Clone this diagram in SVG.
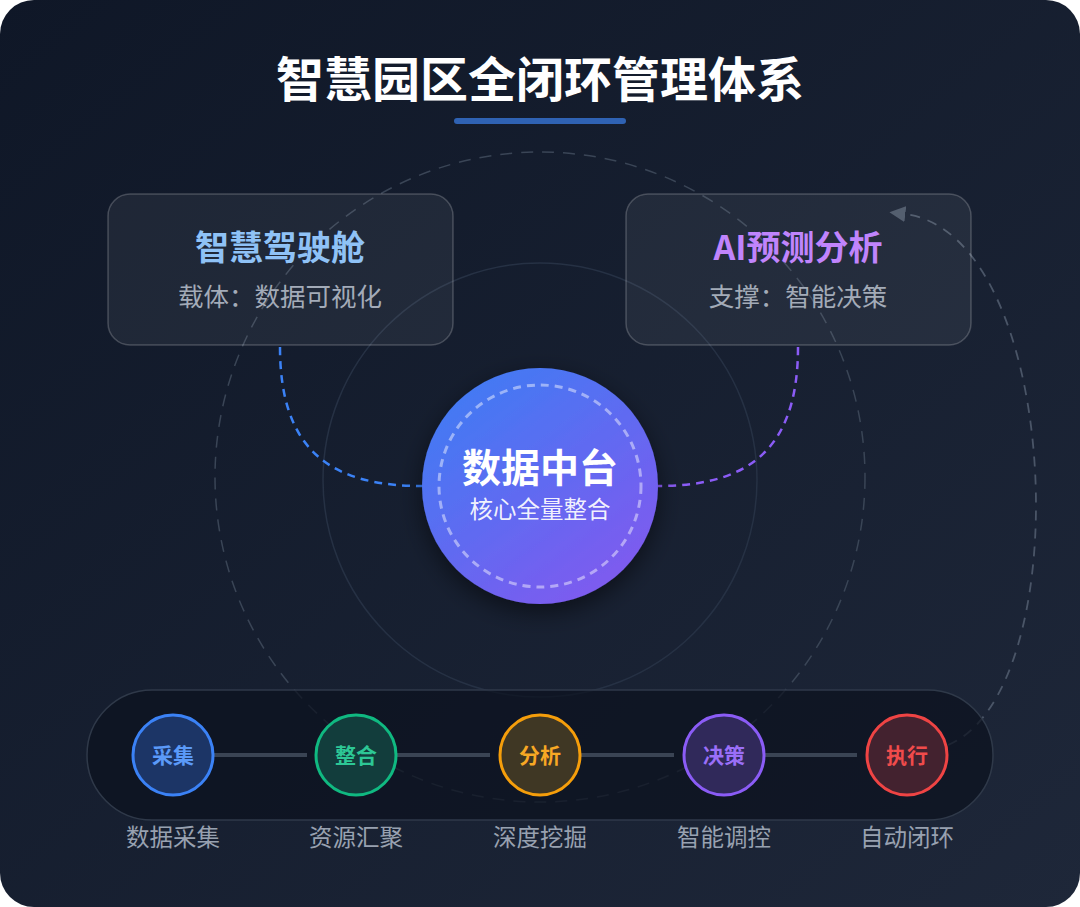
<svg xmlns="http://www.w3.org/2000/svg" width="1080" height="907" viewBox="0 0 1080 907">
  <defs>
    <linearGradient id="bg" x1="0" y1="0" x2="1" y2="1">
      <stop offset="0" stop-color="#0f1727"/>
      <stop offset="1" stop-color="#1e2739"/>
    </linearGradient>
    <linearGradient id="core" x1="0.2" y1="0.1" x2="0.8" y2="0.9">
      <stop offset="0" stop-color="#4479f3"/>
      <stop offset="1" stop-color="#7d5bef"/>
    </linearGradient>
    <filter id="glow" x="-30%" y="-30%" width="160%" height="160%">
      <feGaussianBlur in="SourceAlpha" stdDeviation="12"/>
      <feOffset dy="8"/>
      <feComponentTransfer><feFuncA type="linear" slope="0.5"/></feComponentTransfer>
      <feMerge><feMergeNode/><feMergeNode in="SourceGraphic"/></feMerge>
    </filter>
    <marker id="arr" viewBox="0 0 12 12" refX="1" refY="6" markerWidth="16" markerHeight="16" markerUnits="userSpaceOnUse" orient="auto">
      <path d="M12 6 L0 0 L0 12 Z" fill="#4a5567"/>
    </marker>
    <style>
      .cjk { font-family: "Noto Sans CJK SC", "Noto Sans", sans-serif; }
      .card { fill: rgba(255,255,255,0.06); stroke: rgba(255,255,255,0.2); stroke-width: 1.5; }
      .ctitle { font-size: 34px; font-weight: 700; text-anchor: middle; }
      .csub { font-size: 25.5px; fill: #a3abb8; text-anchor: middle; }
      .step { stroke-width: 3; }
      .stext { font-size: 21px; font-weight: 700; text-anchor: middle; }
      .slabel { font-size: 23.5px; fill: #98a1b0; text-anchor: middle; }
      .link { stroke: #3a4454; stroke-width: 4; }
    </style>
  </defs>

  <rect width="1080" height="907" fill="#ffffff"/>
  <rect width="1080" height="907" rx="34" fill="url(#bg)"/>

  <!-- background rings -->
  <g id="rings" fill="none">
    <circle cx="540" cy="477" r="325" stroke="#3a4556" stroke-width="1.5" stroke-dasharray="12 9"/>
    <circle cx="540" cy="480" r="217" stroke="#263144" stroke-width="1.5"/>
  </g>

  <!-- title -->
  <g id="title">
    <text x="540" y="97" class="cjk" font-size="48" font-weight="700" fill="#ffffff" text-anchor="middle">智慧园区全闭环管理体系</text>
    <rect x="454" y="118" width="172" height="6" rx="3" fill="#2f62b3"/>
  </g>

  <!-- connectors -->
  <g id="connectors" fill="none">
    <path d="M280 347 C280 450 330 486 422 486" stroke="#3b82f6" stroke-width="2.5" stroke-dasharray="8 6"/>
    <path d="M798 347 C798 450 748 486 658 486" stroke="#8b5cf6" stroke-width="2.5" stroke-dasharray="8 6"/>
    <path d="M948 745 C1080 690 1062 232 904 214" stroke="#4a5567" stroke-width="1.8" stroke-dasharray="10 8" marker-end="url(#arr)"/>
  </g>

  <!-- cockpit card -->
  <g id="node-cockpit" class="cjk">
    <rect x="108" y="194" width="345" height="151" rx="22" class="card"/>
    <text x="280" y="260" class="ctitle" fill="#8fc2f6">智慧驾驶舱</text>
    <text x="280" y="306" class="csub">载体：数据可视化</text>
  </g>

  <!-- AI card -->
  <g id="node-ai" class="cjk">
    <rect x="626" y="194" width="345" height="151" rx="22" class="card"/>
    <text x="798" y="260" class="ctitle" fill="#c084fc">AI预测分析</text>
    <text x="798" y="306" class="csub">支撑：智能决策</text>
  </g>

  <!-- core -->
  <g id="node-core" class="cjk">
    <circle cx="540" cy="486" r="118" fill="url(#core)" filter="url(#glow)"/>
    <circle cx="540" cy="486" r="101" fill="none" stroke="rgba(255,255,255,0.45)" stroke-width="3" stroke-dasharray="8 6"/>
    <text x="540" y="482" font-size="39" font-weight="700" fill="#ffffff" text-anchor="middle">数据中台</text>
    <text x="540" y="518" font-size="23.5" fill="rgba(255,255,255,0.92)" text-anchor="middle">核心全量整合</text>
  </g>

  <!-- process bar -->
  <g id="bar">
    <rect x="87" y="690" width="906" height="130" rx="65" fill="rgba(12,17,30,0.7)" stroke="#2f3949" stroke-width="1.5"/>
  </g>
  <g id="step-links">
    <line x1="213" y1="755" x2="307" y2="755" class="link"/>
    <line x1="396" y1="755" x2="490" y2="755" class="link"/>
    <line x1="580" y1="755" x2="674" y2="755" class="link"/>
    <line x1="764" y1="755" x2="857" y2="755" class="link"/>
  </g>

  <g id="step-collect" class="cjk">
    <circle cx="173" cy="755" r="40" class="step" fill="#1c3566" stroke="#3b82f6"/>
    <text x="173" y="763" class="stext" fill="#5b9af8">采集</text>
    <text x="173" y="846" class="slabel">数据采集</text>
  </g>
  <g id="step-integrate" class="cjk">
    <circle cx="356" cy="755" r="40" class="step" fill="#123d3c" stroke="#10b981"/>
    <text x="356" y="763" class="stext" fill="#2dc795">整合</text>
    <text x="356" y="846" class="slabel">资源汇聚</text>
  </g>
  <g id="step-analyze" class="cjk">
    <circle cx="540" cy="755" r="40" class="step" fill="#3f3724" stroke="#f59e0b"/>
    <text x="540" y="763" class="stext" fill="#f7a824">分析</text>
    <text x="540" y="846" class="slabel">深度挖掘</text>
  </g>
  <g id="step-decide" class="cjk">
    <circle cx="724" cy="755" r="40" class="step" fill="#30295a" stroke="#8b5cf6"/>
    <text x="724" y="763" class="stext" fill="#9a6ff8">决策</text>
    <text x="724" y="846" class="slabel">智能调控</text>
  </g>
  <g id="step-execute" class="cjk">
    <circle cx="907" cy="755" r="40" class="step" fill="#43222f" stroke="#ef4444"/>
    <text x="907" y="763" class="stext" fill="#f04b4b">执行</text>
    <text x="907" y="846" class="slabel">自动闭环</text>
  </g>
</svg>
